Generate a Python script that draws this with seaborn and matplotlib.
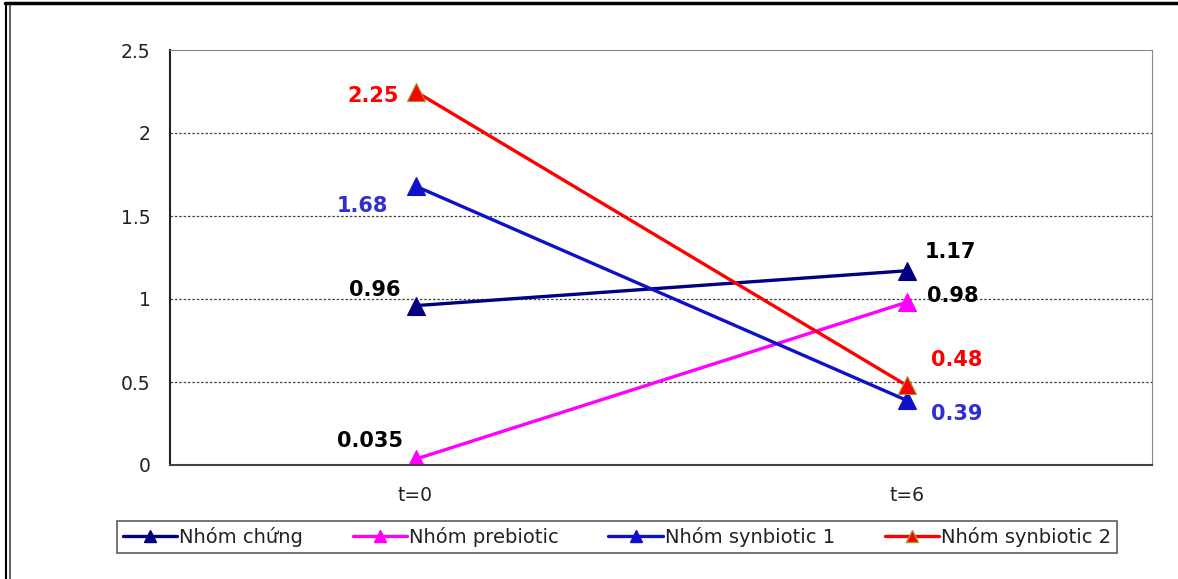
import matplotlib
matplotlib.use("Agg")
import matplotlib.pyplot as plt
import seaborn as sns
import pandas as pd
from matplotlib.lines import Line2D

times = ["t=0", "t=6"]
series_names = ["Nhóm chứng", "Nhóm prebiotic", "Nhóm synbiotic 1", "Nhóm synbiotic 2"]
chung = [0.96, 1.17]
prebiotic = [0.035, 0.98]
synbiotic1 = [1.68, 0.39]
synbiotic2 = [2.25, 0.48]
label_texts = [["0.96", "1.17"], ["0.035", "0.98"], ["1.68", "0.39"], ["2.25", "0.48"]]

colors = ["#000080", "#FF00FF", "#1010C8", "#FF0000"]
edge_colors = ["#000080", "#FF00FF", "#1010C8", "#9A9A30"]
label_colors = [["black", "black"], ["black", "black"], ["#3030D0", "#3030D0"], ["#FF0000", "#FF0000"]]
# offsets in pixels (dx, dy, ha)
offsets = [[(-15, 16, "right"), (18, 19, "left")],
           [(-12, 18, "right"), (21, 6, "left")],
           [(-27, -20, "right"), (25, -14, "left")],
           [(-17, -5, "right"), (25, 25, "left")]]

all_vals = [chung, prebiotic, synbiotic1, synbiotic2]
rows = []
for name, vals in zip(series_names, all_vals):
    for t, v in zip(times, vals):
        rows.append({"time": t, "value": v, "series": name})
df = pd.DataFrame(rows)

sns.set_style("white")
plt.rcParams['font.family'] = ['DejaVu Sans']

fig = plt.figure(figsize=(11.78, 5.79), dpi=100)
ax = fig.add_axes([170/1178, 1-465/579, (1152-170)/1178, (465-50)/579])

sns.lineplot(data=df, x="time", y="value", hue="series", hue_order=series_names,
             palette=colors, ax=ax, sort=False, linewidth=2.4, marker="^",
             markersize=13, legend=False)
for line, ec in zip(ax.get_lines(), edge_colors):
    line.set_markeredgecolor(ec)
    line.set_markeredgewidth(0.8)

ax.set_xlim(-0.5, 1.5)
ax.set_ylim(0, 2.5)
ax.set_yticks([0, 0.5, 1, 1.5, 2, 2.5])
ax.set_yticklabels(["0", "0.5", "1", "1.5", "2", "2.5"])
ax.set_xticks([0, 1])
ax.set_xticklabels(times)
ax.set_xticks([-0.5, 0.5, 1.5], minor=True)
ax.tick_params(axis="x", which="major", length=0, pad=15, labelsize=13.5, colors="#222222")
ax.tick_params(axis="x", which="minor", length=5, width=1, color="#555555", direction="out")
ax.tick_params(axis="y", length=6, width=1, color="#555555", direction="out", labelsize=13.5,
               labelcolor="#222222", pad=8)
ax.set_xlabel("")
ax.set_ylabel("")
for yv in [0.5, 1, 1.5, 2]:
    ax.axhline(yv, color="#444444", linestyle=(0, (2, 1.5)), linewidth=0.9, zorder=0)
ax.spines["left"].set_color("#222222")
ax.spines["bottom"].set_color("#444444")
ax.spines["left"].set_linewidth(1.5)
ax.spines["bottom"].set_linewidth(1.5)
ax.spines["top"].set_color("#888888")
ax.spines["right"].set_color("#888888")

for i, vals in enumerate(all_vals):
    for j, v in enumerate(vals):
        dx, dy, ha = offsets[i][j]
        ax.annotate(label_texts[i][j], xy=(j, v), xytext=(dx, dy), textcoords="offset pixels",
                    ha=ha, va="center", fontsize=15, fontweight="bold",
                    color=label_colors[i][j])

handles = [Line2D([0], [0], color=c, lw=2.4, marker="^", markersize=8,
                  markerfacecolor=c, markeredgecolor=ec)
           for c, ec in zip(colors, edge_colors)]
leg = fig.legend(handles, series_names, loc="center", ncol=4,
                 bbox_to_anchor=(617/1178, 1-537/579), frameon=True, fancybox=False,
                 edgecolor="#333333", fontsize=14, handlelength=2.8, handletextpad=0.1,
                 columnspacing=2.55, borderpad=0.3)
leg.get_frame().set_linewidth(1.2)
for t in leg.get_texts():
    t.set_color("#222222")

# outer frame
fig.add_artist(Line2D([5/1178, 1], [1-3/579, 1-3/579], color="black", lw=2.5, transform=fig.transFigure))
fig.add_artist(Line2D([6/1178, 6/1178], [0, 1-3/579], color="black", lw=1.5, transform=fig.transFigure))
fig.add_artist(Line2D([10/1178, 10/1178], [0, 1-5/579], color="#444444", lw=1.2, transform=fig.transFigure))

fig.savefig("out.png", dpi=100)
